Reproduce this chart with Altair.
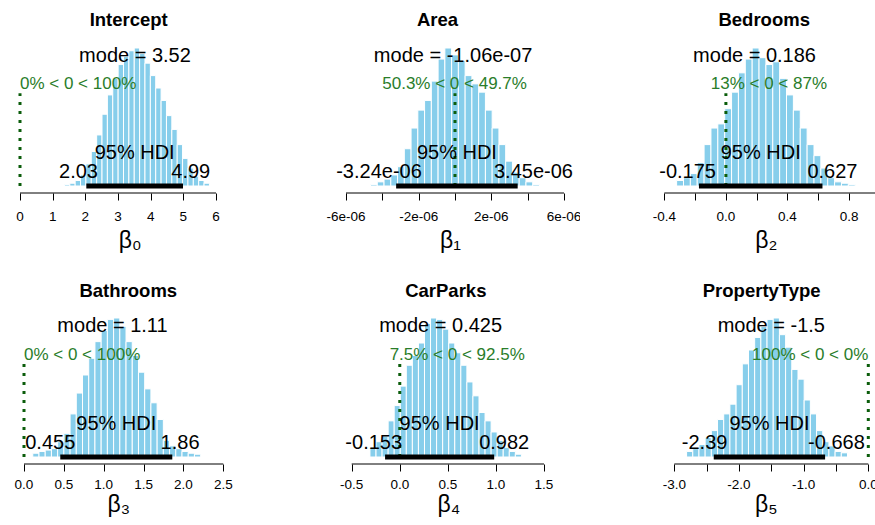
import altair as alt
import pandas as pd

FONT = "Liberation Sans"
SKY = "#87CEEB"
GREEN_TXT = "#2a7d2a"
GREEN_LINE = "#0b5d0b"

# ---------------- posterior summaries ----------------
titles = ["Intercept", "Area", "Bedrooms", "Bathrooms", "CarParks", "PropertyType"]
beta_labels = ["β₀", "β₁", "β₂", "β₃", "β₄", "β₅"]
modes = [3.52, -1.06e-07, 0.186, 1.11, 0.425, -1.5]
mode_labels = ["mode = 3.52", "mode = -1.06e-07", "mode = 0.186",
               "mode = 1.11", "mode = 0.425", "mode = -1.5"]
hdi_low = [2.03, -3.24e-06, -0.175, 0.455, -0.153, -2.39]
hdi_high = [4.99, 3.45e-06, 0.627, 1.86, 0.982, -0.668]
hdi_low_labels = ["2.03", "-3.24e-06", "-0.175", "0.455", "-0.153", "-2.39"]
hdi_high_labels = ["4.99", "3.45e-06", "0.627", "1.86", "0.982", "-0.668"]
comp_value = 0
pct_below = [0, 50.3, 13, 0, 7.5, 100]
pct_above = [100, 49.7, 87, 100, 92.5, 0]
pct_below_labels = ["0", "50.3", "13", "0", "7.5", "100"]
pct_above_labels = ["100", "49.7", "87", "100", "92.5", "0"]

# ---------------- histograms (relative density, tallest bar = 1) ----------------
bin_start = [1.36, -4.65e-06, -0.32, 0.11, -0.31, -2.81]
bin_width = [0.1644, 3.72e-07, 0.0446, 0.078, 0.063, 0.0957]
heights = [
    [0.01, 0.02, 0.04, 0.08, 0.16, 0.25, 0.37, 0.52, 0.66, 0.78, 0.88, 0.94, 0.98, 1.0,
     0.96, 0.89, 0.80, 0.71, 0.62, 0.51, 0.41, 0.30, 0.20, 0.13, 0.07, 0.04, 0.02],
    [0.01, 0.03, 0.05, 0.08, 0.14, 0.27, 0.42, 0.55, 0.62, 0.76, 0.92, 1.0, 0.95,
     0.91, 0.80, 0.74, 0.68, 0.55, 0.42, 0.30, 0.18, 0.10, 0.06, 0.03, 0.01],
    [0.04, 0.06, 0.09, 0.17, 0.30, 0.42, 0.45, 0.56, 0.68, 0.82, 0.92, 1.0, 0.93,
     0.88, 0.90, 0.78, 0.66, 0.55, 0.42, 0.30, 0.22, 0.13, 0.06, 0.03, 0.02, 0.01],
    [0.027, 0.04, 0.05, 0.06, 0.11, 0.17, 0.31, 0.46, 0.59, 0.71, 0.83, 0.91, 0.99, 1.0,
     0.94, 0.83, 0.73, 0.61, 0.49, 0.39, 0.27, 0.12, 0.08, 0.06, 0.04, 0.027, 0.02],
    [0.07, 0.11, 0.15, 0.26, 0.37, 0.51, 0.66, 0.73, 0.82, 0.96, 1.0, 0.99, 0.92,
     0.82, 0.75, 0.66, 0.54, 0.44, 0.32, 0.26, 0.18, 0.12, 0.07, 0.04, 0.02],
    [0.04, 0.06, 0.09, 0.14, 0.19, 0.27, 0.31, 0.38, 0.52, 0.67, 0.77, 0.86, 0.94,
     0.99, 1.0, 0.88, 0.79, 0.63, 0.56, 0.41, 0.31, 0.19, 0.11, 0.08, 0.04, 0.03],
]

# ---------------- axis ticks ----------------
ticks = [
    [0, 1, 2, 3, 4, 5, 6],
    [-6e-06, -4e-06, -2e-06, 0, 2e-06, 4e-06, 6e-06],
    [-0.4, -0.2, 0.0, 0.2, 0.4, 0.6, 0.8],
    [0.0, 0.5, 1.0, 1.5, 2.0, 2.5],
    [-0.5, 0.0, 0.5, 1.0, 1.5],
    [-3.0, -2.5, -2.0, -1.5, -1.0, -0.5, 0.0],
]
tick_labels = [
    ["0", "1", "2", "3", "4", "5", "6"],
    ["-6e-06", "", "-2e-06", "", "2e-06", "", "6e-06"],
    ["-0.4", "", "0.0", "", "0.4", "", "0.8"],
    ["0.0", "0.5", "1.0", "1.5", "2.0", "2.5"],
    ["-0.5", "0.0", "0.5", "1.0", "1.5"],
    ["-3.0", "", "-2.0", "", "-1.0", "", "0.0"],
]
axis_end = [6, 6e-06, 1.0, 2.5, 1.5, 0.0]

# ---------------- page layout (pixels) ----------------
col_left = [0, 290, 580]
col_width = [290, 290, 295]
row_top = [0, 262]
row_height = [262, 263]
row_base = [186, 457]      # zero density
row_peak = [48, 318]       # tallest bar
row_axis = [193, 464]
row_title = [26, 297]
row_beta = [247, 511]
row_tick_label = [221, 489]
# two reference ticks per panel: (value, pixel, value, pixel)
x_anchor = [(0, 20, 6, 216), (-6e-06, 346, 6e-06, 564), (-0.4, 664.3, 0.8, 849.1),
            (0, 24, 2.5, 223.3), (-0.5, 351.7, 1.5, 544), (-3.0, 674.3, 0.0, 868.3)]
title_x = [128.7, 437.5, 764.2, 128.3, 445.8, 761.7]
beta_x = [129.7, 450, 765.8, 118.3, 448.3, 765.8]

MAIN = 20
SMALL = 17
TICK = 13.5
ADV = {"0": .556, "1": .556, "2": .556, "3": .556, "4": .556, "5": .556, "6": .556,
       "7": .556, "8": .556, "9": .556, ".": .278, "-": .333, "%": .889, "<": .584,
       " ": .278, "e": .556}


def text_width(s, size):
    return size * sum(ADV.get(ch, 0.556) for ch in s)


def build(i):
    r, c = divmod(i, 3)
    left, W = col_left[c], col_width[c]
    top, H = row_top[r], row_height[r]
    va, pa, vb, pb = x_anchor[i]
    kx = (pb - pa) / (vb - va)
    xs = alt.Scale(domain=[va + (left - pa) / kx, va + (left + W - pa) / kx], nice=False, zero=False)
    ky = row_base[r] - row_peak[r]
    ys = alt.Scale(domain=[(row_base[r] - (top + H)) / ky, (row_base[r] - top) / ky],
                   nice=False, zero=False)
    y_axis_level = (row_base[r] - row_axis[r]) / ky

    # one axis definition shared by every layer so the layers merge cleanly
    x_axis = alt.Axis(values=ticks[i], labels=False, domain=False, grid=False,
                      tickSize=7, tickColor="black", tickWidth=1,
                      offset=-(top + H - row_axis[r]),
                      title=beta_labels[i], titleFont=FONT, titleFontSize=23,
                      titleFontWeight="normal", titleColor="black",
                      titleX=beta_x[i] - left, titleY=row_beta[r] - row_axis[r],
                      titleBaseline="alphabetic", titleAlign="center", titleAngle=0)

    def X(f):
        return alt.X(f, scale=xs, axis=x_axis)

    def Y(f):
        return alt.Y(f, scale=ys, axis=None)

    n = len(heights[i])
    lo = [bin_start[i] + j * bin_width[i] for j in range(n)]
    hist = pd.DataFrame({"lo": lo, "hi": [v + bin_width[i] for v in lo],
                         "h": heights[i], "z": [0.0] * n})

    bars = alt.Chart(hist).mark_rect(fill=SKY, stroke="white", strokeWidth=1).encode(
        x=X("lo:Q"), x2="hi:Q", y=Y("z:Q"), y2="h:Q")

    axis_line = alt.Chart(pd.DataFrame({"lo": [ticks[i][0]], "b": [axis_end[i]],
                                        "y": [y_axis_level]})).mark_rule(
        color="black", strokeWidth=1, clip=True).encode(x=X("lo:Q"), x2="b:Q", y=Y("y:Q"))

    lab = [(v, t) for v, t in zip(ticks[i], tick_labels[i]) if t]
    tick_text = alt.Chart(pd.DataFrame({"lo": [p[0] for p in lab], "t": [p[1] for p in lab],
                                        "y": [y_axis_level] * len(lab)})).mark_text(
        font=FONT, fontSize=TICK, color="black", baseline="alphabetic", align="center",
        dy=row_tick_label[r] - row_axis[r], clip=True).encode(x=X("lo:Q"), y=Y("y:Q"), text="t:N")

    comp_line = alt.Chart(pd.DataFrame({"lo": [comp_value], "y0": [0.0], "y1": [0.96 * 0.7]})).mark_rule(
        color=GREEN_LINE, strokeWidth=3, strokeDash=[3, 6]).encode(
        x=X("lo:Q"), y=Y("y0:Q"), y2="y1:Q")

    hdi_bar = alt.Chart(pd.DataFrame({"lo": [hdi_low[i]], "b": [hdi_high[i]], "y": [0.0]})).mark_rule(
        color="black", strokeWidth=5, strokeCap="butt").encode(x=X("lo:Q"), x2="b:Q", y=Y("y:Q"))

    mode_text = alt.Chart(pd.DataFrame({"lo": [modes[i]], "y": [0.9], "t": [mode_labels[i]]})).mark_text(
        font=FONT, fontSize=MAIN, color="black", baseline="alphabetic", align="center").encode(
        x=X("lo:Q"), y=Y("y:Q"), text="t:N")

    comp_str = f"{pct_below_labels[i]}% < {comp_value} < {pct_above_labels[i]}%"
    comp_text = alt.Chart(pd.DataFrame({"lo": [comp_value], "y": [0.7], "t": [comp_str]})).mark_text(
        font=FONT, fontSize=SMALL, color=GREEN_TXT, baseline="alphabetic", align="center",
        dx=(0.5 - pct_below[i] / 100) * text_width(comp_str, SMALL)).encode(
        x=X("lo:Q"), y=Y("y:Q"), text="t:N")

    hdi_text = alt.Chart(pd.DataFrame({"lo": [(hdi_low[i] + hdi_high[i]) / 2], "y": [0.0],
                                       "t": ["95% HDI"]})).mark_text(
        font=FONT, fontSize=MAIN, color="black", baseline="alphabetic", align="center",
        dy=-27.5).encode(x=X("lo:Q"), y=Y("y:Q"), text="t:N")

    lo_text = alt.Chart(pd.DataFrame({"lo": [hdi_low[i]], "y": [0.0], "t": [hdi_low_labels[i]]})).mark_text(
        font=FONT, fontSize=MAIN, color="black", baseline="alphabetic", align="center",
        dx=-0.2 * text_width(hdi_low_labels[i], MAIN), dy=-8).encode(
        x=X("lo:Q"), y=Y("y:Q"), text="t:N")

    hi_text = alt.Chart(pd.DataFrame({"lo": [hdi_high[i]], "y": [0.0], "t": [hdi_high_labels[i]]})).mark_text(
        font=FONT, fontSize=MAIN, color="black", baseline="alphabetic", align="center",
        dx=0.2 * text_width(hdi_high_labels[i], MAIN), dy=-8).encode(
        x=X("lo:Q"), y=Y("y:Q"), text="t:N")

    title = alt.Chart(pd.DataFrame({"t": [titles[i]]})).mark_text(
        font=FONT, fontSize=18.5, fontWeight="bold", color="black", baseline="alphabetic",
        align="center").encode(x=alt.value(title_x[i] - left), y=alt.value(row_title[r] - top),
                               text="t:N")

    return alt.layer(bars, axis_line, tick_text, comp_line, hdi_bar, mode_text, comp_text,
                     hdi_text, lo_text, hi_text, title).properties(width=W, height=H)


chart = alt.concat(*[build(i) for i in range(6)], columns=3, spacing=0, bounds="flush").properties(
    padding=0, background="white").configure_view(strokeWidth=0)

chart.save("out.html", embed_options={"renderer": "svg", "actions": False})
